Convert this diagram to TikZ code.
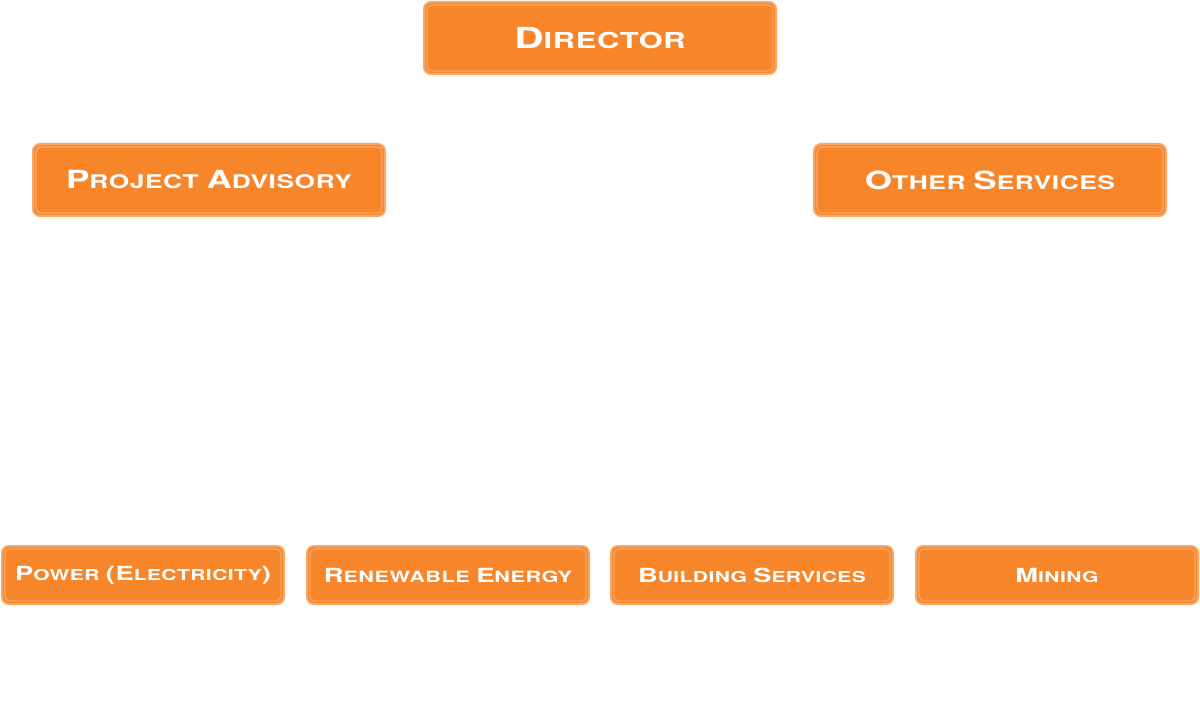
\documentclass[tikz,border=0pt]{standalone}
\usepackage{fontspec}
\newfontfamily\boxfont[FakeStretch=1.4,LetterSpace=3]{TeX Gyre Heros}
\definecolor{boxorange}{HTML}{F7852A}
\definecolor{boxlight}{HTML}{FBA765}
\newcommand\SCa[2]{{\fontsize{\capsz}{\capsz}\selectfont#1}{\fontsize{\smsz}{\smsz}\selectfont#2}}
\newcommand\SCset[2]{\def\capsz{#1}\def\smsz{#2}\fontsize{#2}{#2}\selectfont}
\tikzset{
  orgbox/.style={draw=boxlight, line width=2pt, fill=boxorange, rounded corners=7pt,
    text=white, inner sep=0pt, font=\boxfont\bfseries},
  bigbox/.style={orgbox, minimum width=352pt, minimum height=72pt},
  midbox/.style={orgbox, minimum width=352pt, minimum height=72pt},
  smallbox/.style={orgbox, minimum width=282pt, minimum height=58pt},
  innerline/.style={draw=boxlight, line width=1.3pt, rounded corners=5pt}
}
\begin{document}
\begin{tikzpicture}[x=1pt,y=1pt]
\useasboundingbox (0,0) rectangle (1200,724);
\node[bigbox] (dir) at (600,686) {\SCset{29pt}{22pt}\SCa{D}{IRECTOR}};
\node[midbox] (pa) at (209,544) {\SCset{25pt}{18.8pt}\SCa{P}{ROJECT} \SCa{A}{DVISORY}};
\node[midbox] (os) at (990,544) {\SCset{25pt}{18.8pt}\SCa{O}{THER} \SCa{S}{ERVICES}};
\node[smallbox] (pw) at (143,149) {\SCset{19.5pt}{15pt}\SCa{P}{OWER} \SCa{(E}{LECTRICITY}\SCa{)}{}};
\node[smallbox] (re) at (448,149) {\SCset{19.5pt}{15.5pt}\SCa{R}{ENEWABLE} \SCa{E}{NERGY}};
\node[smallbox] (bs) at (752,149) {\SCset{19.5pt}{15pt}\SCa{B}{UILDING} \SCa{S}{ERVICES}};
\node[smallbox] (mi) at (1057,149) {\SCset{19.5pt}{15pt}\SCa{M}{INING}};
\foreach \n in {dir,pa,os,pw,re,bs,mi}
  \draw[innerline] ([shift={(4pt,4pt)}]\n.south west) rectangle ([shift={(-4pt,-4pt)}]\n.north east);
\end{tikzpicture}
\end{document}
